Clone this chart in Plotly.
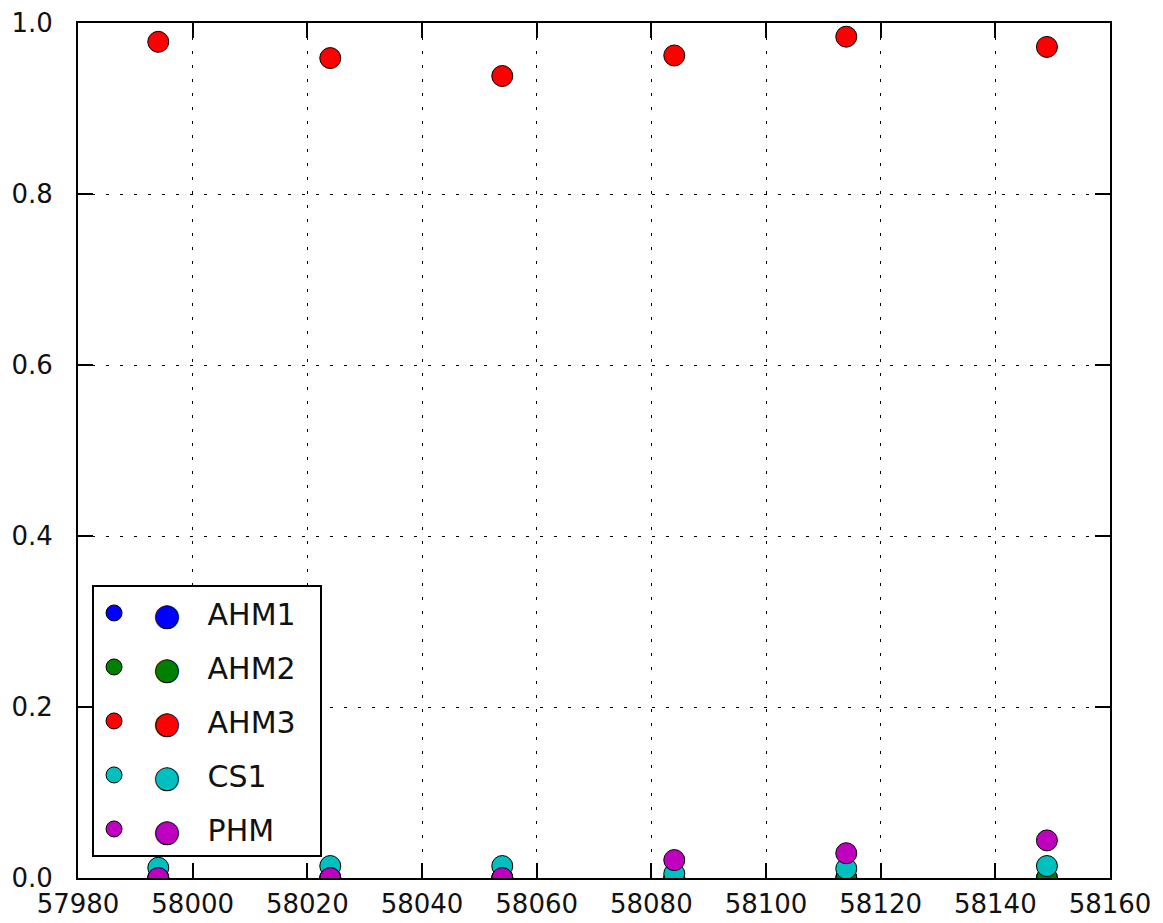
import plotly.graph_objects as go

# Data (MJD on x, fraction on y)
mjd = [57994, 58024, 58054, 58084, 58114, 58149]
ahm1 = [0.0, 0.0, 0.0, 0.0, 0.0, 0.0]
ahm2 = [0.0, 0.0, 0.0, 0.0, 0.0, 0.0]
ahm3 = [0.978, 0.959, 0.938, 0.962, 0.984, 0.972]
cs1 = [0.012, 0.014, 0.014, 0.005, 0.011, 0.014]
phm = [0.0, 0.0, 0.0, 0.021, 0.029, 0.044]

series_names = ["AHM1", "AHM2", "AHM3", "CS1", "PHM"]
series_values = [ahm1, ahm2, ahm3, cs1, phm]
series_colors = ["#0000ff", "#008000", "#ff0000", "#00bfbf", "#bf00bf"]

x_ticks = list(range(57980, 58161, 20))
y_ticks = [0.0, 0.2, 0.4, 0.6, 0.8, 1.0]

fig = go.Figure()
for i, (name, vals, col) in enumerate(zip(series_names, series_values, series_colors)):
    label = (f'<span style="font-size:31px">&nbsp;&nbsp;</span>'
             f'<span style="color:{col};stroke:#000000;stroke-width:1px;font-size:30px">●</span>'
             f'<span style="font-size:29px">&nbsp;&nbsp;&nbsp;</span>{name}'
             f'<span style="font-size:30px">&nbsp;&nbsp;</span>')
    fig.add_trace(go.Scatter(
        x=mjd, y=vals, mode="markers", name=label,
        legendgroup=f"g{i}",
        marker=dict(size=21, color=col, line=dict(color="black", width=1)),
        cliponaxis=True,
    ))

axis_common = dict(
    showline=True, linecolor="black", linewidth=2, mirror="allticks",
    ticks="inside", ticklen=15, tickwidth=1.5, tickcolor="black",
    showgrid=True, gridcolor="black", gridwidth=1, griddash="3px,11px",
    zeroline=False, automargin=False,
    tickfont=dict(family="DejaVu Sans", size=26, color="#111111"),
)

fig.update_xaxes(range=[57980, 58160], tickvals=x_ticks,
                 ticktext=[str(v) for v in x_ticks],
                 ticklabelstandoff=2, **axis_common)
fig.update_yaxes(range=[0, 1], tickvals=y_ticks,
                 ticktext=[f"{v:.1f}" for v in y_ticks],
                 ticklabelstandoff=18, **axis_common)

fig.update_layout(
    width=1163, height=923,
    margin=dict(l=78, r=53, t=23, b=45),
    paper_bgcolor="white", plot_bgcolor="white",
    showlegend=True,
    legend=dict(
        x=0.0136, y=0.0246, xanchor="left", yanchor="bottom",
        bgcolor="white", bordercolor="black", borderwidth=2,
        font=dict(family="DejaVu Sans", size=30, color="#111111"),
        traceorder="grouped", tracegroupgap=12,
        itemsizing="trace",
    ),
)

fig.write_html("out.html")
